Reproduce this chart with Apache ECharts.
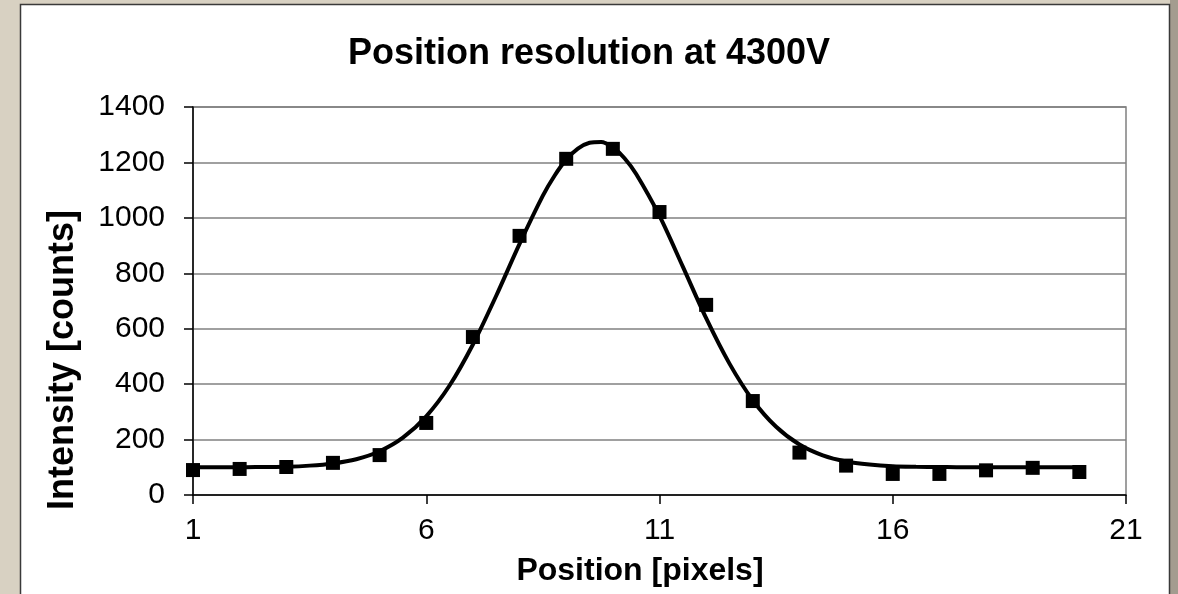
<!DOCTYPE html>
<html>
<head>
<meta charset="utf-8">
<script src="https://cdn.jsdelivr.net/npm/echarts@6/dist/echarts.min.js"></script>
<style>
html,body{margin:0;padding:0;background:#d8d1c2;}
#c{width:1178px;height:594px;}
</style>
</head>
<body>
<div id="c"></div>
<script>
// Measured data points (pixel position, intensity in counts)
const positions = [1,2,3,4,5,6,7,8,9,10,11,12,13,14,15,16,17,18,19,20];
const counts = [90,94,101,116,144,260,570,935,1213,1249,1021,686,339,153,106,76,76,89,98,83];

// Fitted curve, values
const fitX = [1,1.5,2,2.5,3,3.5,4,4.5,5,5.5,6,6.5,7,7.5,8,8.5,8.75,9,9.25,9.5,9.75,10,10.25,10.5,11,11.5,12,12.5,13,13.5,14,14.5,15,15.5,16,16.5,17,17.5,18,18.5,19,19.5,20];
const fitY = [100,100,100,101,102,106,114,129,158,207,284,395,543,719,906,1080,1152,1210,1250,1271,1274,1254,1215,1158,1007,824,638,474,342,246,182,143,121,110,104,102,101,100,100,100,100,100,100];

// Axis ticks
const xTicks = [1,6,11,16,21];
const yTicks = [0,200,400,600,800,1000,1200,1400];

const titleText = 'Position resolution at 4300V';
const xName = 'Position [pixels]';
const yName = 'Intensity [counts]';

const chart = echarts.init(document.getElementById('c'), null, {renderer:'canvas'});
const font = 'Liberation Sans, Arial, sans-serif';

chart.setOption({
  backgroundColor: 'transparent',
  animation: false,
  graphic: [{
    type: 'rect', z: -11, silent: true,
    shape: {x: 1170, y: 0, width: 8, height: 594},
    style: {fill: '#a39c8f'}
  }, {
    type: 'rect', z: -10, silent: true,
    shape: {x: 20.5, y: 4.5, width: 1149, height: 600},
    style: {fill: '#ffffff', stroke: '#3a3a3a', lineWidth: 1.5}
  }],
  title: {
    text: titleText, left: 'center', top: 31,
    textStyle: {fontFamily: font, fontSize: 36, fontWeight: 'bold', color: '#000'}
  },
  grid: {
    left: 193, right: 52, top: 107, bottom: 99,
    show: true, borderColor: '#808080', borderWidth: 1.5, backgroundColor: 'transparent'
  },
  xAxis: {
    type: 'value',
    min: xTicks[0], max: xTicks[xTicks.length-1], interval: xTicks[1]-xTicks[0],
    name: xName, nameLocation: 'middle', nameGap: 60,
    nameTextStyle: {fontFamily: font, fontSize: 32, fontWeight: 'bold', color: '#000', padding: [0, 39, 0, 0]},
    axisLine: {show: true, onZero: false, lineStyle: {color: '#000', width: 1.5}},
    axisTick: {show: true, length: 9, inside: false, lineStyle: {color: '#000', width: 1.5}},
    axisLabel: {fontFamily: font, fontSize: 30, color: '#000', margin: 21, formatter: v => String(v)},
    splitLine: {show: false}
  },
  yAxis: {
    type: 'value',
    min: yTicks[0], max: yTicks[yTicks.length-1], interval: yTicks[1]-yTicks[0],
    name: yName, nameLocation: 'middle', nameGap: 112,
    nameTextStyle: {fontFamily: font, fontSize: 36, fontWeight: 'bold', color: '#000', padding: [0, 118, 0, 0]},
    axisLine: {show: true, lineStyle: {color: '#000', width: 1.5}},
    axisTick: {show: true, length: 9, inside: false, lineStyle: {color: '#000', width: 1.5}},
    axisLabel: {fontFamily: font, fontSize: 30, color: '#000', margin: 28, formatter: v => String(v)},
    splitLine: {show: true, lineStyle: {color: '#808080', width: 1.5}}
  },
  series: [
    {
      type: 'line', name: 'fit',
      data: fitX.map((x, i) => [x, fitY[i]]),
      smooth: 0.3, showSymbol: false, symbol: 'none',
      lineStyle: {color: '#000', width: 4}, z: 2
    },
    {
      type: 'scatter', name: 'data',
      data: positions.map((x, i) => [x, counts[i]]),
      symbol: 'rect', symbolSize: 14,
      itemStyle: {color: '#000', opacity: 1}, z: 3
    }
  ]
});
</script>
</body>
</html>
